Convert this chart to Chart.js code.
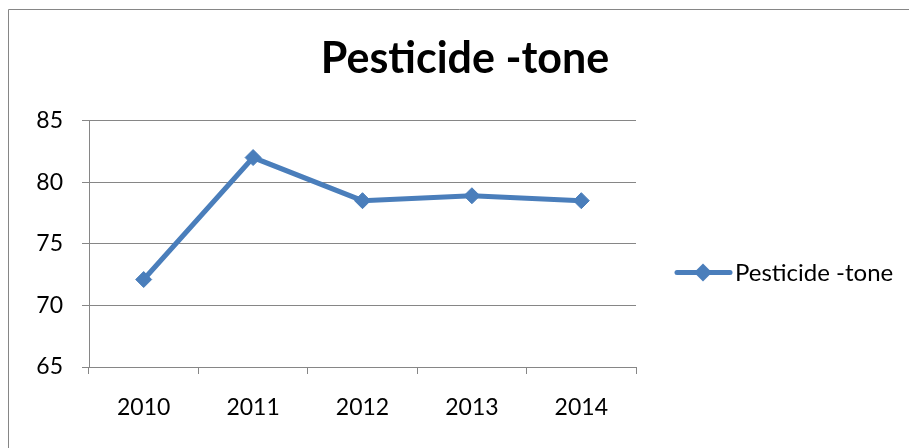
<!DOCTYPE html>
<html>
<head>
<meta charset="utf-8">
<script src="https://cdn.jsdelivr.net/npm/chart.js@4.4.1/dist/chart.umd.min.js"></script>
<style>
  html, body { margin: 0; padding: 0; background: #ffffff; }
  #wrap { width: 909px; height: 448px; }
</style>
</head>
<body>
<div id="wrap"><canvas id="chart" width="909" height="448"></canvas></div>
<script>
// Annual pesticide use (tonnes)
const years = ['2010', '2011', '2012', '2013', '2014'];
const pesticideTone = [72.1, 82.0, 78.5, 78.9, 78.5];
const seriesName = 'Pesticide -tone';
const chartTitle = 'Pesticide -tone';
const yMin = 65;
const yMax = 85;
const yStep = 5;

const BLUE = '#4a7ebb';
const GREY = '#868686';
const FONT = "Lato, 'Liberation Sans', Arial, sans-serif";

// Frame around the whole chart plus white background
const framePlugin = {
  id: 'frame',
  beforeDraw(chart) {
    const ctx = chart.ctx;
    ctx.save();
    ctx.fillStyle = '#ffffff';
    ctx.fillRect(0, 0, chart.width, chart.height);
    ctx.strokeStyle = GREY;
    ctx.lineWidth = 1;
    ctx.beginPath();
    ctx.moveTo(8.5, chart.height + 2);
    ctx.lineTo(8.5, 9.5);
    ctx.lineTo(chart.width + 2, 9.5);
    ctx.stroke();
    ctx.restore();
  }
};

// Legend entry on the right: line sample with a diamond marker and the series name
const sideLegend = {
  id: 'sideLegend',
  afterDraw(chart) {
    const ctx = chart.ctx;
    const ds = chart.data.datasets[0];
    const y = 272.5;
    const x0 = 677, x1 = 730, xm = 703;
    ctx.save();
    ctx.strokeStyle = ds.borderColor;
    ctx.lineWidth = 5;
    ctx.lineCap = 'round';
    ctx.beginPath();
    ctx.moveTo(x0, y);
    ctx.lineTo(x1, y);
    ctx.stroke();
    ctx.fillStyle = ds.pointBackgroundColor;
    ctx.beginPath();
    ctx.moveTo(xm - 9, y);
    ctx.lineTo(xm, y - 9);
    ctx.lineTo(xm + 9, y);
    ctx.lineTo(xm, y + 9);
    ctx.closePath();
    ctx.fill();
    ctx.fillStyle = '#000000';
    ctx.font = '24px ' + FONT;
    ctx.textAlign = 'left';
    ctx.textBaseline = 'middle';
    ctx.fillText(ds.label, 735, y + 1);
    ctx.restore();
  }
};

new Chart(document.getElementById('chart'), {
  type: 'line',
  data: {
    labels: years,
    datasets: [{
      label: seriesName,
      data: pesticideTone,
      borderColor: BLUE,
      backgroundColor: BLUE,
      borderWidth: 5,
      tension: 0,
      fill: false,
      pointStyle: 'rectRot',
      pointRadius: 8,
      pointBorderWidth: 1,
      pointBackgroundColor: BLUE,
      pointBorderColor: BLUE
    }]
  },
  options: {
    responsive: false,
    animation: false,
    events: [],
    layout: { padding: { left: 21, right: 0, top: 0, bottom: 0 } },
    plugins: {
      legend: { display: false },
      tooltip: { enabled: false },
      title: {
        display: true,
        text: chartTitle,
        color: '#000000',
        font: { family: FONT, size: 43, weight: 'bold', lineHeight: 1.2 },
        padding: { top: 33, bottom: 36 }
      }
    },
    scales: {
      x: {
        type: 'category',
        offset: true,
        grid: {
          display: true,
          offset: true,
          drawOnChartArea: false,
          drawTicks: true,
          tickLength: 7,
          color: GREY,
          lineWidth: 1
        },
        border: { display: true, color: GREY, width: 1 },
        ticks: {
          color: '#000000',
          font: { family: FONT, size: 23 },
          padding: 20,
          maxRotation: 0
        },
        afterFit(scale) { scale.height = 81; }
      },
      y: {
        type: 'linear',
        min: yMin,
        max: yMax,
        grid: {
          display: true,
          drawTicks: true,
          tickLength: 7,
          color: GREY,
          lineWidth: 1
        },
        border: { display: true, color: GREY, width: 1 },
        ticks: {
          stepSize: yStep,
          color: '#000000',
          font: { family: FONT, size: 23 },
          padding: 19
        },
        afterFit(scale) { scale.width = 68; }
      },
      side: {
        type: 'linear',
        position: 'right',
        display: true,
        grid: { display: false },
        border: { display: false },
        ticks: { display: false },
        afterFit(scale) { scale.width = 273; }
      }
    }
  },
  plugins: [framePlugin, sideLegend]
});
</script>
</body>
</html>
